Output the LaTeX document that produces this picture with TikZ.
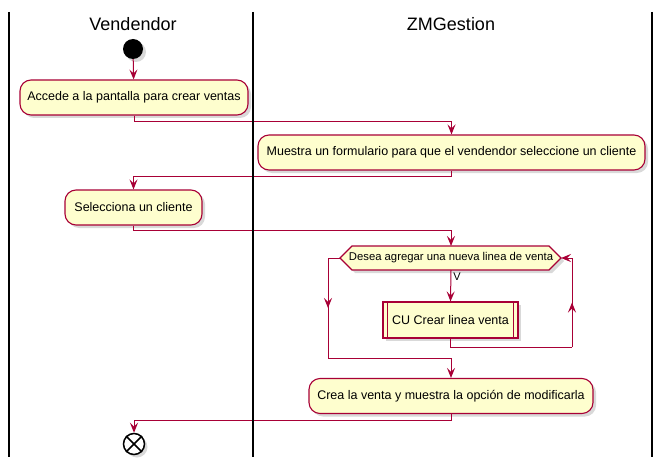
\documentclass[tikz,border=0pt]{standalone}
\usepackage{fontspec}
\setmainfont{Liberation Sans}
\usetikzlibrary{arrows.meta,shadows,decorations.markings}
\definecolor{umlred}{HTML}{A80036}
\definecolor{umlfill}{HTML}{FEFECE}

\begin{document}
\begin{tikzpicture}[x=1pt,y=-1pt,
    lane/.style={line width=1.4pt,black},
    title/.style={font=\fontsize{18}{20}\selectfont},
    act/.style={draw=umlred,fill=umlfill,line width=1.1pt,rounded corners=11pt,
      minimum height=35pt,inner xsep=0pt,font=\fontsize{12.5}{14}\selectfont,
      drop shadow={opacity=0.3,shadow xshift=3pt,shadow yshift=-3pt}},
    wire/.style={draw=umlred,line width=1pt},
    flow/.style={wire,-{Stealth[length=10pt,width=8pt,inset=4pt]}},
    midarrow/.style={wire,postaction={decorate},
      decoration={markings,mark=at position #1 with {\arrow[umlred]{Stealth[length=10pt,width=8pt,inset=4pt]}}}}]
  \useasboundingbox (0,0) rectangle (663,465);

  % swimlanes
  \node[title] (vend) at (133,24) {Vendendor};
  \node[title] (zmg) at (451,24) {ZMGestion};

  % activities
  \node[circle,fill=black,minimum size=20pt,inner sep=0pt,
    drop shadow={opacity=0.3,shadow xshift=3pt,shadow yshift=-3pt}] (start) at (133,49) {};
  \node[act,minimum width=228pt] (accede) at (134,97.5) {Accede a la pantalla para crear ventas};
  \node[act,minimum width=387pt] (muestra) at (451.5,152.5) {Muestra un formulario para que el vendendor seleccione un cliente};
  \node[act,minimum width=137pt] (selec) at (133.5,207.5) {Selecciona un cliente};

  % decision
  \coordinate (pregC) at (451,258);
  \coordinate (pregW) at (340,258);
  \coordinate (pregE) at (561,258);
  \draw[wire,fill=umlfill,line width=1.1pt,
    drop shadow={opacity=0.3,shadow xshift=3pt,shadow yshift=-3pt}]
    (pregW) -- (352,246) -- (549,246) -- (pregE)
    -- (549,270) -- (352,270) -- cycle;
  \node[inner sep=0pt,font=\fontsize{11.3}{13}\selectfont] (preg) at (pregC) {Desea agregar una nueva linea de venta};
  \node[font=\fontsize{11}{13}\selectfont] (si) at (457,277) {V};

  \node[act,rounded corners=0pt,minimum width=135pt,minimum height=36pt] (crear) at (450.5,320) {CU Crear linea venta};
  \draw[wire,line width=1.1pt] ([xshift=5pt]crear.north west) -- ([xshift=5pt]crear.south west);
  \draw[wire,line width=1.1pt] ([xshift=-5pt]crear.north east) -- ([xshift=-5pt]crear.south east);

  \node[act,minimum width=284pt] (crea) at (451,396) {Crea la venta y muestra la opción de modificarla};

  \node[circle,draw=black,fill=white,line width=1.5pt,minimum size=21pt,inner sep=0pt,
    drop shadow={opacity=0.3,shadow xshift=3pt,shadow yshift=-3pt}] (stop) at (134,444) {};
  \draw[line width=1.5pt] (stop.north west) -- (stop.south east);
  \draw[line width=1.5pt] (stop.north east) -- (stop.south west);

  % flows
  \coordinate (pregN) at (451,246);
  \coordinate (pregS) at (451,270);
  \draw[flow] (start) -- (accede);
  \draw[flow] (accede.south) -- ++(0,6) -| (muestra.north);
  \draw[flow] (muestra.south) -- ++(0,6) -| (selec.north);
  \draw[flow] (selec.south) -- ++(0,5) -| (pregN);
  \draw[flow] (pregS) -- (crear.north);

  \coordinate (backB) at (572,347);
  \coordinate (backT) at (572,258);
  \draw[wire] (crear.south) |- (backB);
  \draw[midarrow=0.5] (backB) -- (backT);
  \draw[flow] (backT) -- (pregE);

  \coordinate (outT) at (328,258);
  \coordinate (outB) at (328,358);
  \draw[wire] (pregW) -- (outT);
  \draw[midarrow=0.5] (outT) -- (outB);
  \draw[flow] (outB) -| (crea.north);

  \draw[flow] (crea.south) -- ++(0,6) -| (stop.north);

  % lane borders
  \draw[lane] (9,12) -- (9,457);
  \draw[lane] (253,12) -- (253,457);
  \draw[lane] (652,12) -- (652,457);
\end{tikzpicture}
\end{document}
